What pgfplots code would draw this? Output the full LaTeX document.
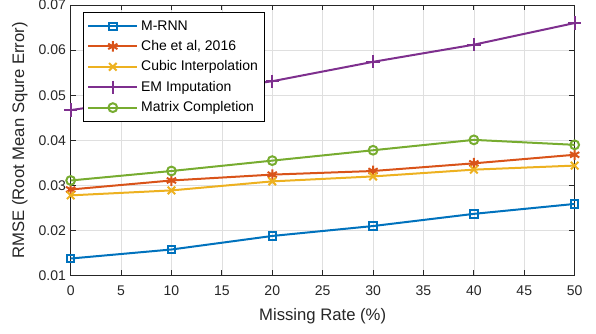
\documentclass[border=0pt]{standalone}
\usepackage{pgfplots}
\pgfplotsset{compat=1.18}
\usepackage{fontspec}
\setmainfont{Liberation Sans}
\definecolor{mblue}{rgb}{0,0.447,0.741}
\definecolor{morange}{rgb}{0.85,0.325,0.098}
\definecolor{myellow}{rgb}{0.929,0.694,0.125}
\definecolor{mpurple}{rgb}{0.494,0.184,0.556}
\definecolor{mgreen}{rgb}{0.466,0.674,0.188}
\definecolor{axgray}{rgb}{0.15,0.15,0.15}
\begin{document}
\begin{tikzpicture}
\begin{axis}[
  scale only axis,
  width=378pt, height=203pt,
  xmin=0, xmax=50, ymin=0.01, ymax=0.07,
  xtick={0,5,...,50},
  ytick={0.01,0.02,0.03,0.04,0.05,0.06,0.07},
  scaled y ticks=false,
  yticklabel style={/pgf/number format/.cd, fixed, fixed zerofill, precision=2},
  /pgf/number format/assume math mode=true,
  xticklabel style={yshift=-4pt},
  tick align=inside,
  tick style={axgray, line width=0.6pt},
  major tick length=4pt,
  axis line style={axgray, line width=0.6pt},
  grid=major,
  grid style={gray!25, line width=0.5pt},
  ticklabel style={font=\fontsize{10.5}{12}\selectfont, text=axgray},
  label style={font=\fontsize{12.5}{14}\selectfont, text=axgray},
  xlabel={Missing Rate (\%)},
  ylabel={RMSE (Root Mean Squre Error)},
  xlabel style={at={(axis description cs:0.5,-0.1515)}, anchor=center},
  ylabel style={at={(axis description cs:-0.101,0.5)}, anchor=center},
  legend style={at={(0.024,0.974)}, anchor=north west, draw=black, line width=0.6pt,
    font=\fontsize{10.5}{12}\selectfont, row sep=2.2pt, inner xsep=3pt, inner ysep=4pt},
  legend cell align=left,
  legend image code/.code={\draw[mark repeat=2,mark phase=2] plot coordinates {(0cm,0cm) (0.65cm,0cm) (1.3cm,0cm)};},
  every axis plot/.append style={line width=1.5pt, mark options={solid}},
]
\addplot[mblue, mark=square, mark size=2.8pt] coordinates {(0,0.0138) (10,0.0158) (20,0.0188) (30,0.0210) (40,0.0237) (50,0.0259)};
\addlegendentry{M-RNN}
\addplot[morange, mark=asterisk, mark size=4pt] coordinates {(0,0.0291) (10,0.0311) (20,0.0324) (30,0.0332) (40,0.0349) (50,0.0368)};
\addlegendentry{Che et al, 2016}
\addplot[myellow, mark=x, mark size=4pt] coordinates {(0,0.0278) (10,0.0289) (20,0.0309) (30,0.0320) (40,0.0335) (50,0.0344)};
\addlegendentry{Cubic Interpolation}
\addplot[mpurple, mark=+, mark size=5pt] coordinates {(0,0.0467) (10,0.0499) (20,0.0531) (30,0.0574) (40,0.0612) (50,0.0660)};
\addlegendentry{EM Imputation}
\addplot[mgreen, mark=o, mark size=3.3pt] coordinates {(0,0.0311) (10,0.0332) (20,0.0355) (30,0.0378) (40,0.0401) (50,0.0390)};
\addlegendentry{Matrix Completion}
\end{axis}
\pgfresetboundingbox
\path (current axis.south west) ++(-53pt,-43.5pt) rectangle (current axis.north east) ++(16pt,3.75pt);
\end{tikzpicture}
\end{document}
